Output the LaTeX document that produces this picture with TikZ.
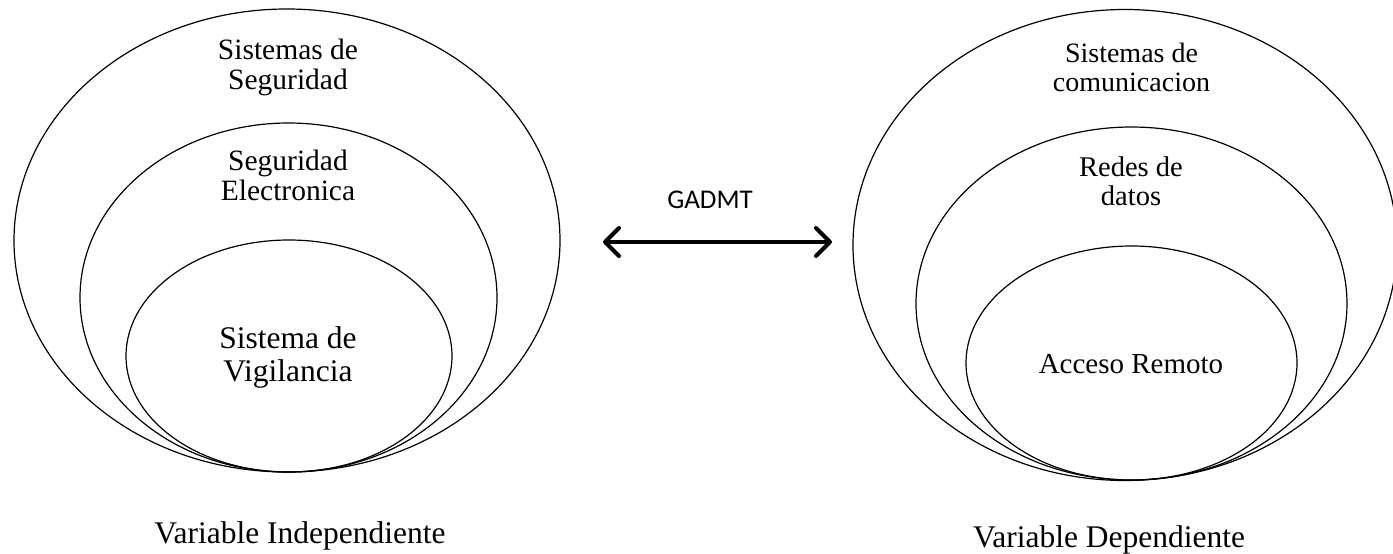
\documentclass[tikz,border=0pt]{standalone}
\usepackage{fontspec}
\setmainfont{Liberation Serif}
\newfontfamily\labelsans{Carlito}
\usetikzlibrary{shapes.geometric,arrows.meta}

\tikzset{
  ring/.style={draw, ellipse, line width=1.2pt, inner sep=0pt, outer sep=0pt},
  caption/.style={anchor=base, align=center, inner sep=0pt},
  bigarrow/.style={line width=4pt, {Straight Barb[length=14pt,width=28pt,line cap=round,line join=round]}-{Straight Barb[length=14pt,width=28pt,line cap=round,line join=round]}}
}

\begin{document}
\begin{tikzpicture}[x=1pt, y=-1pt]
  \useasboundingbox (0,0) rectangle (1393,554);

  % independent variable: nested sets
  \node[ring, minimum width=546pt, minimum height=463pt] (outerL) at (287,240.5) {};
  \node[ring, minimum width=417pt, minimum height=349pt] (midL) at (288.5,297.5) {};
  \node[ring, minimum width=326pt, minimum height=232pt] (innL) at (289,356) {};

  % dependent variable: nested sets
  \node[ring, minimum width=544pt, minimum height=471pt] (outerR) at (1125,245) {};
  \node[ring, minimum width=431pt, minimum height=353pt] (midR) at (1131.5,303.5) {};
  \node[ring, minimum width=331pt, minimum height=234pt] (innR) at (1131.5,363) {};

  % labels of the left sets (placed by the baseline of their last line)
  \node[caption, font=\fontsize{29.5}{30}\selectfont] (tOuterL) at (288,89) {Sistemas de\\Seguridad};
  \node[caption, font=\fontsize{29.5}{30}\selectfont] (tMidL) at (288,200) {Seguridad\\Electronica};
  \node[caption, font=\fontsize{31.5}{33}\selectfont] (tInnL) at (288,381) {Sistema de\\Vigilancia};

  % labels of the right sets
  \node[caption, font=\fontsize{28}{28.5}\selectfont] (tOuterR) at (1131.5,91) {Sistemas de\\comunicacion};
  \node[caption, font=\fontsize{28.5}{29}\selectfont] (tMidR) at (1131,205) {Redes de\\datos};
  \node[caption, font=\fontsize{29}{30}\selectfont] (tInnR) at (1131,373) {Acceso Remoto};

  % captions under each group
  \node[caption, font=\fontsize{31.5}{33}\selectfont] (varInd) at (300,543) {Variable Independiente};
  \node[caption, font=\fontsize{31.5}{33}\selectfont] (varDep) at (1109,547) {Variable Dependiente};

  % relation between both groups
  \node[caption, font=\labelsans\fontsize{27}{28}\selectfont] (gad) at (710,208) {GADMT};
  \coordinate (arrL) at (603,242);
  \coordinate (arrR) at (832,242);
  \draw[bigarrow] (arrL) -- (arrR);
\end{tikzpicture}
\end{document}
